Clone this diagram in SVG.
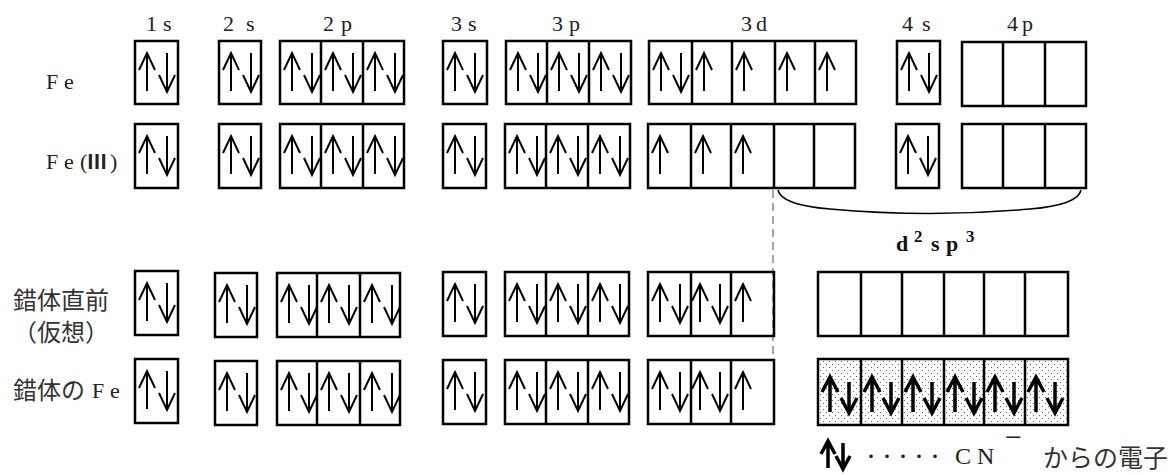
<svg xmlns="http://www.w3.org/2000/svg" xmlns:xlink="http://www.w3.org/1999/xlink" width="1175" height="475" viewBox="0 0 1175 475">
  <style>
    .box { fill: none; stroke: #000; stroke-width: 2.5; }
    .div { stroke: #000; stroke-width: 2.5; }
    .arr { fill: none; stroke: #000; stroke-width: 2; }
    .barr { fill: none; stroke: #000; stroke-width: 3.5; stroke-linejoin: miter; }
    .lat { font-family: "Liberation Serif", "Noto Sans CJK JP", serif; font-size: 22px; fill: #222; }
    .rn { font-family: "Noto Sans CJK JP", sans-serif; font-weight: bold; font-size: 20px; }
    .jp { font-family: "Noto Sans CJK JP", "Liberation Serif", sans-serif; font-size: 24px; fill: #333; }
    .hyb { font-family: "Liberation Serif", serif; font-weight: bold; fill: #111; }
  </style>
  <defs>
    <!-- thin spin arrows, origin at the top end -->
    <path id="up" class="arr" d="M0,0 V38 M-8,17 L0,0 L8,17"/>
    <path id="dn" class="arr" d="M0,0 V39 M-8,22 L0,39 L8,22"/>
    <!-- bold arrows for donated ligand electrons -->
    <path id="bup" class="barr" d="M0,0 V35 M-8,15 L0,0 L8,15"/>
    <path id="bdn" class="barr" d="M0,0 V31 M-8,16 L0,31 L8,16"/>
    <pattern id="dots" width="6" height="6" patternUnits="userSpaceOnUse">
      <rect width="6" height="6" fill="#fff"/>
      <rect x="1" y="1" width="1" height="1" fill="#666"/>
      <rect x="4" y="4" width="1" height="1" fill="#666"/>
    </pattern>
  </defs>

  <!-- subshell headings -->
  <g id="headings" class="lat">
    <text x="146 163" y="31">1s</text>
    <text x="223 246" y="31">2s</text>
    <text x="323 341" y="31">2p</text>
    <text x="451 468" y="31">3s</text>
    <text x="552 569" y="31">3p</text>
    <text x="741 756" y="31">3d</text>
    <text x="902 922" y="31">4s</text>
    <text x="1007 1022" y="31">4p</text>
  </g>

  <!-- row labels -->
  <g id="row-labels">
    <text class="lat" x="46 64" y="89">Fe</text>
    <text class="lat" x="46 64 80" y="169">Fe(<tspan class="rn" x="87">Ⅲ</tspan><tspan x="110">)</tspan></text>
    <text class="jp" x="13" y="309">錯体直前</text>
    <text class="jp" x="13" y="341">（仮想）</text>
    <text class="jp" x="13" y="399">錯体の<tspan class="lat" x="92 110" y="398">Fe</tspan></text>
  </g>

  <!-- Fe ground state -->
  <g id="row-fe">
    <g id="fe-1s"><rect class="box" x="135" y="41" width="43" height="63"/><use href="#up" x="147" y="53"/><use href="#dn" x="167" y="53"/></g>
    <g id="fe-2s"><rect class="box" x="219" y="41" width="42" height="63"/><use href="#up" x="231" y="53"/><use href="#dn" x="251" y="53"/></g>
    <g id="fe-2p"><rect class="box" x="280" y="41" width="124" height="63"/><line class="div" x1="321" y1="41" x2="321" y2="104"/><line class="div" x1="363" y1="41" x2="363" y2="104"/>
      <use href="#up" x="292" y="53"/><use href="#dn" x="312" y="53"/><use href="#up" x="333" y="53"/><use href="#dn" x="353" y="53"/><use href="#up" x="375" y="53"/><use href="#dn" x="395" y="53"/></g>
    <g id="fe-3s"><rect class="box" x="443" y="41" width="44" height="63"/><use href="#up" x="455" y="53"/><use href="#dn" x="475" y="53"/></g>
    <g id="fe-3p"><rect class="box" x="506" y="41" width="125" height="63"/><line class="div" x1="547" y1="41" x2="547" y2="104"/><line class="div" x1="589" y1="41" x2="589" y2="104"/>
      <use href="#up" x="518" y="53"/><use href="#dn" x="538" y="53"/><use href="#up" x="559" y="53"/><use href="#dn" x="579" y="53"/><use href="#up" x="601" y="53"/><use href="#dn" x="621" y="53"/></g>
    <g id="fe-3d"><rect class="box" x="649" y="41" width="207" height="63"/>
      <line class="div" x1="692" y1="41" x2="692" y2="104"/><line class="div" x1="732" y1="41" x2="732" y2="104"/><line class="div" x1="775" y1="41" x2="775" y2="104"/><line class="div" x1="815" y1="41" x2="815" y2="104"/>
      <use href="#up" x="661" y="53"/><use href="#dn" x="681" y="53"/><use href="#up" x="704" y="53"/><use href="#up" x="744" y="53"/><use href="#up" x="787" y="53"/><use href="#up" x="827" y="53"/></g>
    <g id="fe-4s"><rect class="box" x="897" y="41" width="43" height="63"/><use href="#up" x="909" y="53"/><use href="#dn" x="929" y="53"/></g>
    <g id="fe-4p"><rect class="box" x="962" y="42" width="124" height="64"/><line class="div" x1="1003" y1="42" x2="1003" y2="106"/><line class="div" x1="1045" y1="42" x2="1045" y2="106"/></g>
  </g>

  <!-- Fe(III) -->
  <g id="row-fe3">
    <g id="fe3-1s"><rect class="box" x="135" y="124" width="43" height="64"/><use href="#up" x="147" y="136"/><use href="#dn" x="167" y="136"/></g>
    <g id="fe3-2s"><rect class="box" x="219" y="124" width="42" height="64"/><use href="#up" x="231" y="136"/><use href="#dn" x="251" y="136"/></g>
    <g id="fe3-2p"><rect class="box" x="280" y="124" width="124" height="64"/><line class="div" x1="321" y1="124" x2="321" y2="188"/><line class="div" x1="363" y1="124" x2="363" y2="188"/>
      <use href="#up" x="292" y="136"/><use href="#dn" x="312" y="136"/><use href="#up" x="333" y="136"/><use href="#dn" x="353" y="136"/><use href="#up" x="375" y="136"/><use href="#dn" x="395" y="136"/></g>
    <g id="fe3-3s"><rect class="box" x="443" y="124" width="43" height="64"/><use href="#up" x="455" y="136"/><use href="#dn" x="475" y="136"/></g>
    <g id="fe3-3p"><rect class="box" x="505" y="124" width="125" height="64"/><line class="div" x1="546" y1="124" x2="546" y2="188"/><line class="div" x1="588" y1="124" x2="588" y2="188"/>
      <use href="#up" x="517" y="136"/><use href="#dn" x="537" y="136"/><use href="#up" x="558" y="136"/><use href="#dn" x="578" y="136"/><use href="#up" x="600" y="136"/><use href="#dn" x="620" y="136"/></g>
    <g id="fe3-3d"><rect class="box" x="648" y="124" width="207" height="64"/>
      <line class="div" x1="691" y1="124" x2="691" y2="188"/><line class="div" x1="731" y1="124" x2="731" y2="188"/><line class="div" x1="774" y1="124" x2="774" y2="188"/><line class="div" x1="814" y1="124" x2="814" y2="188"/>
      <use href="#up" x="660" y="136"/><use href="#up" x="703" y="136"/><use href="#up" x="743" y="136"/></g>
    <g id="fe3-4s"><rect class="box" x="896" y="124" width="43" height="64"/><use href="#up" x="908" y="136"/><use href="#dn" x="928" y="136"/></g>
    <g id="fe3-4p"><rect class="box" x="962" y="124" width="124" height="64"/><line class="div" x1="1003" y1="124" x2="1003" y2="188"/><line class="div" x1="1045" y1="124" x2="1045" y2="188"/></g>
  </g>

  <!-- connectors: bracket over the empty orbitals and the dashed guide -->
  <g id="connectors" fill="none">
    <path d="M778,190 Q781,205 830,209 Q930,218 1030,209 Q1078,205 1081,190" stroke="#000" stroke-width="1.5"/>
    <line x1="773" y1="190" x2="773" y2="358" stroke="#888" stroke-width="1.5" stroke-dasharray="8 5"/>
  </g>

  <!-- hybrid label -->
  <g id="hybrid-label" class="hyb">
    <text x="896" y="251" font-size="22">d</text>
    <text x="914" y="242" font-size="17">2</text>
    <text x="931" y="251" font-size="22">s</text>
    <text x="946" y="251" font-size="22">p</text>
    <text x="966" y="242" font-size="17">3</text>
  </g>

  <!-- just before complex formation (hypothetical) -->
  <g id="row-pre">
    <g id="pre-1s"><rect class="box" x="135" y="271" width="43" height="64"/><use href="#up" x="147" y="283"/><use href="#dn" x="167" y="283"/></g>
    <g id="pre-2s"><rect class="box" x="215" y="273" width="42" height="64"/><use href="#up" x="227" y="285"/><use href="#dn" x="247" y="285"/></g>
    <g id="pre-2p"><rect class="box" x="277" y="273" width="123" height="64"/><line class="div" x1="317" y1="273" x2="317" y2="337"/><line class="div" x1="360" y1="273" x2="360" y2="337"/>
      <use href="#up" x="289" y="285"/><use href="#dn" x="309" y="285"/><use href="#up" x="329" y="285"/><use href="#dn" x="349" y="285"/><use href="#up" x="372" y="285"/><use href="#dn" x="392" y="285"/></g>
    <g id="pre-3s"><rect class="box" x="443" y="272" width="43" height="64"/><use href="#up" x="455" y="284"/><use href="#dn" x="475" y="284"/></g>
    <g id="pre-3p"><rect class="box" x="505" y="272" width="124" height="64"/><line class="div" x1="546" y1="272" x2="546" y2="336"/><line class="div" x1="588" y1="272" x2="588" y2="336"/>
      <use href="#up" x="517" y="284"/><use href="#dn" x="537" y="284"/><use href="#up" x="558" y="284"/><use href="#dn" x="578" y="284"/><use href="#up" x="600" y="284"/><use href="#dn" x="620" y="284"/></g>
    <g id="pre-3d"><rect class="box" x="648" y="272" width="126" height="64"/><line class="div" x1="691" y1="272" x2="691" y2="336"/><line class="div" x1="731" y1="272" x2="731" y2="336"/>
      <use href="#up" x="660" y="284"/><use href="#dn" x="680" y="284"/><use href="#up" x="700" y="284"/><use href="#dn" x="720" y="284"/><use href="#up" x="743" y="284"/></g>
    <g id="pre-hybrid"><rect class="box" x="818" y="272" width="250" height="64" stroke-width="2"/>
      <line class="div" x1="861" y1="272" x2="861" y2="336"/><line class="div" x1="902" y1="272" x2="902" y2="336"/><line class="div" x1="944" y1="272" x2="944" y2="336"/><line class="div" x1="984" y1="272" x2="984" y2="336"/><line class="div" x1="1025" y1="272" x2="1025" y2="336"/></g>
  </g>

  <!-- Fe in the complex -->
  <g id="row-complex">
    <g id="cx-1s"><rect class="box" x="135" y="359" width="43" height="64"/><use href="#up" x="147" y="371"/><use href="#dn" x="167" y="371"/></g>
    <g id="cx-2s"><rect class="box" x="215" y="361" width="42" height="64"/><use href="#up" x="227" y="373"/><use href="#dn" x="247" y="373"/></g>
    <g id="cx-2p"><rect class="box" x="277" y="361" width="123" height="64"/><line class="div" x1="317" y1="361" x2="317" y2="425"/><line class="div" x1="360" y1="361" x2="360" y2="425"/>
      <use href="#up" x="289" y="373"/><use href="#dn" x="309" y="373"/><use href="#up" x="329" y="373"/><use href="#dn" x="349" y="373"/><use href="#up" x="372" y="373"/><use href="#dn" x="392" y="373"/></g>
    <g id="cx-3s"><rect class="box" x="443" y="360" width="43" height="64"/><use href="#up" x="455" y="372"/><use href="#dn" x="475" y="372"/></g>
    <g id="cx-3p"><rect class="box" x="505" y="360" width="124" height="64"/><line class="div" x1="546" y1="360" x2="546" y2="424"/><line class="div" x1="588" y1="360" x2="588" y2="424"/>
      <use href="#up" x="517" y="372"/><use href="#dn" x="537" y="372"/><use href="#up" x="558" y="372"/><use href="#dn" x="578" y="372"/><use href="#up" x="600" y="372"/><use href="#dn" x="620" y="372"/></g>
    <g id="cx-3d"><rect class="box" x="648" y="360" width="126" height="64"/><line class="div" x1="691" y1="360" x2="691" y2="424"/><line class="div" x1="731" y1="360" x2="731" y2="424"/>
      <use href="#up" x="660" y="372"/><use href="#dn" x="680" y="372"/><use href="#up" x="700" y="372"/><use href="#dn" x="720" y="372"/><use href="#up" x="743" y="372"/></g>
    <g id="cx-hybrid"><rect x="818" y="359" width="250" height="66" fill="url(#dots)" stroke="#000" stroke-width="2.5"/>
      <line class="div" x1="861" y1="359" x2="861" y2="425"/><line class="div" x1="902" y1="359" x2="902" y2="425"/><line class="div" x1="944" y1="359" x2="944" y2="425"/><line class="div" x1="984" y1="359" x2="984" y2="425"/><line class="div" x1="1025" y1="359" x2="1025" y2="425"/>
      <use href="#bup" x="830" y="377"/><use href="#bdn" x="849" y="382"/>
      <use href="#bup" x="872" y="377"/><use href="#bdn" x="891" y="382"/>
      <use href="#bup" x="913" y="377"/><use href="#bdn" x="932" y="382"/>
      <use href="#bup" x="955" y="377"/><use href="#bdn" x="974" y="382"/>
      <use href="#bup" x="995" y="377"/><use href="#bdn" x="1014" y="382"/>
      <use href="#bup" x="1036" y="377"/><use href="#bdn" x="1055" y="382"/></g>
  </g>

  <!-- legend -->
  <g id="legend">
    <path class="barr" d="M828,468 V441 M821,454 L828,441 L835,454"/>
    <path class="barr" d="M843,443 V469 M836,456 L843,469 L850,456"/>
    <text class="lat" x="871 887 903 919 935" y="466" text-anchor="middle" style="font-size:30px">·····</text>
    <text class="lat" x="955 977" y="464" style="font-size:24px">CN</text>
    <text class="lat" x="1005" y="447" style="font-size:30px">−</text>
    <text class="jp" x="1043" y="467" style="font-size:25px">からの電子</text>
  </g>
</svg>
